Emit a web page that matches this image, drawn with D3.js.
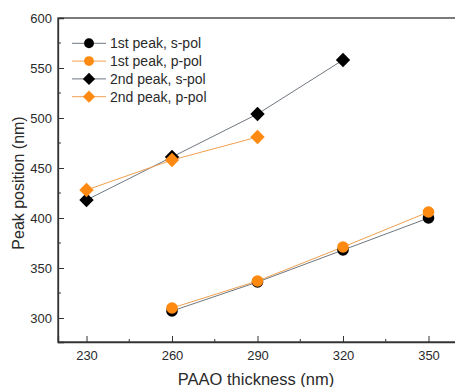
<!DOCTYPE html>
<html><head><meta charset="utf-8">
<script src="https://cdn.jsdelivr.net/npm/d3@7"></script>
<style>body{margin:0;background:#fff}svg{display:block}text{font-family:Arial,"Liberation Sans",sans-serif;fill:#2a2a2a}</style>
</head><body><svg id="c" width="455" height="387"></svg>
<script>
const xTicks=[230,260,290,320,350];
const yTicks=[300,350,400,450,500,550,600];
const seriesNames=["1st peak, s-pol","1st peak, p-pol","2nd peak, s-pol","2nd peak, p-pol"];
const s1x=[260,290,320,350], s1y=[307,336,368,400];
const p1x=[260,290,320,350], p1y=[310,337,371,406];
const s2x=[230,260,290,320], s2y=[418,461,504,558];
const p2x=[230,260,290], p2y=[428,458,481];

const svg=d3.select("#c");
const L=58,R=457,T=18,B=342;
const x=d3.scaleLinear().domain([220,360]).range([L,R]);
const y=d3.scaleLinear().domain([276,600]).range([B,T]);
const ORANGE="#ff8a12";
const series=[
 {name:seriesNames[0],xs:s1x,ys:s1y,col:"#000",line:"#6f7780",shape:"circle"},
 {name:seriesNames[1],xs:p1x,ys:p1y,col:ORANGE,line:"#f0a050",shape:"circle"},
 {name:seriesNames[2],xs:s2x,ys:s2y,col:"#000",line:"#6f7780",shape:"diamond"},
 {name:seriesNames[3],xs:p2x,ys:p2y,col:ORANGE,line:"#f0a050",shape:"diamond"}
];
svg.append("rect").attr("x",L).attr("y",T).attr("width",R-L).attr("height",B-T).attr("fill","none").attr("stroke","#333").attr("stroke-width",1.3);
const xa=svg.append("g").attr("transform",`translate(0,${B})`).call(d3.axisBottom(x).tickValues(xTicks).tickSize(-6).tickPadding(9));
const ya=svg.append("g").attr("transform",`translate(${L},0)`).call(d3.axisLeft(y).tickValues(yTicks).tickSize(-6).tickPadding(6));
[xa,ya].forEach(g=>{g.select(".domain").attr("stroke","#333").attr("stroke-width",1.3);g.selectAll("line").attr("stroke","#333");g.selectAll("text").attr("font-size",13).attr("fill","#333").style("font-family","Arial,'Liberation Sans',sans-serif");});
const xm=[245,275,305,335], ym=[325,375,425,475,525,575];
svg.append("g").selectAll("line").data(xm).join("line").attr("x1",d=>x(d)).attr("x2",d=>x(d)).attr("y1",B).attr("y2",B-3).attr("stroke","#333");
svg.append("g").selectAll("line").data(ym).join("line").attr("x1",L).attr("x2",L+3).attr("y1",d=>y(d)).attr("y2",d=>y(d)).attr("stroke","#333");
svg.append("text").attr("x",256).attr("y",385).attr("text-anchor","middle").attr("font-size",16.5).text("PAAO thickness (nm)");
svg.append("text").attr("transform","translate(24,183) rotate(-90)").attr("text-anchor","middle").attr("font-size",16).text("Peak position (nm)");
const line=d3.line();
function drawMarker(g,shape,cx,cy,col,sc){
  sc=sc||1;
  if(shape==="circle") g.append("circle").attr("cx",cx).attr("cy",cy).attr("r",5.8*sc).attr("fill",col);
  else {const d=7.2*sc; g.append("path").attr("d",`M${cx},${cy-d}L${cx+d},${cy}L${cx},${cy+d}L${cx-d},${cy}Z`).attr("fill",col);}
}
series.forEach(s=>{
  const pts=s.xs.map((v,i)=>[x(v),y(s.ys[i])]);
  svg.append("path").attr("d",line(pts)).attr("fill","none").attr("stroke",s.line).attr("stroke-width",1);
});
series.forEach(s=>{
  const g=svg.append("g");
  s.xs.forEach((v,i)=>drawMarker(g,s.shape,x(v),y(s.ys[i]),s.col));
});
series.forEach((s,i)=>{
  const yy=43.3+i*17.8;
  const g=svg.append("g");
  g.append("line").attr("x1",72).attr("x2",106).attr("y1",yy).attr("y2",yy).attr("stroke",s.line).attr("stroke-width",1);
  drawMarker(g,s.shape,89,yy,s.col,0.85);
  g.append("text").attr("x",110).attr("y",yy+5).attr("font-size",14).text(s.name);
});
</script></body></html>
